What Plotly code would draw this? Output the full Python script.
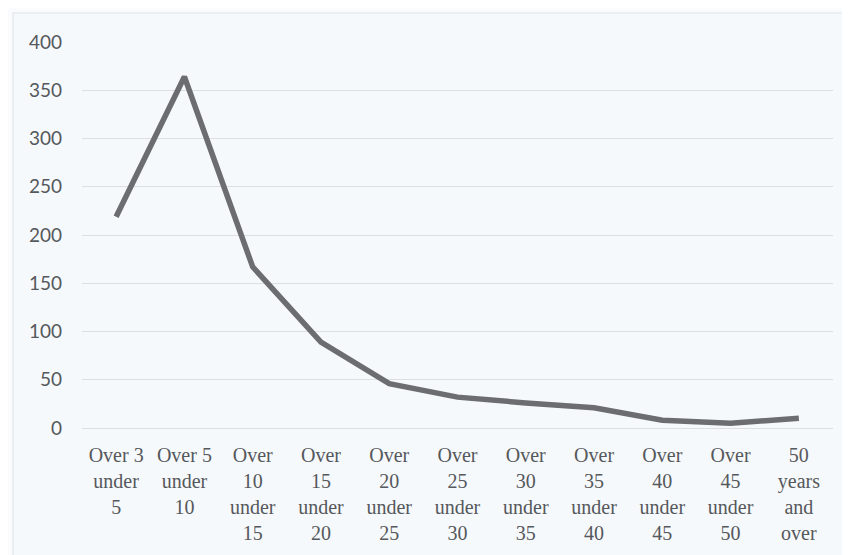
import plotly.graph_objects as go

categories = [
    "Over 3<br>under<br>5", "Over 5<br>under<br>10", "Over<br>10<br>under<br>15",
    "Over<br>15<br>under<br>20", "Over<br>20<br>under<br>25", "Over<br>25<br>under<br>30",
    "Over<br>30<br>under<br>35", "Over<br>35<br>under<br>40", "Over<br>40<br>under<br>45",
    "Over<br>45<br>under<br>50", "50<br>years<br>and<br>over",
]
values = [219, 364, 167, 89, 46, 32, 26, 21, 8, 5, 10]
y_ticks = [0, 50, 100, 150, 200, 250, 300, 350, 400]

# page body has an 8px default margin, so margins are offset accordingly
L, R, T, B = 74, 25, 34, 135
W, H = 850, 555
pw, ph = W - L - R, H - T - B

fig = go.Figure()
fig.add_trace(go.Scatter(
    x=list(range(len(categories))), y=values, mode="lines",
    line=dict(color="#6b6d70", width=5.5),
    hoverinfo="skip", showlegend=False,
))

fig.update_layout(
    width=W, height=H,
    margin=dict(l=L, r=R, t=T, b=B, autoexpand=False),
    paper_bgcolor="#f9fbfd", plot_bgcolor="#f6f9fb",
    xaxis=dict(
        range=[-0.5, len(categories) - 0.5],
        tickmode="array", tickvals=list(range(len(categories))), ticktext=categories,
        showgrid=False, zeroline=False, showline=False, ticks="",
        tickfont=dict(family="Liberation Serif", size=20, color="#55585c"),
        automargin=False, tickangle=0, ticklabelstandoff=13,
    ),
    yaxis=dict(
        range=[0, 400], tickmode="array", tickvals=y_ticks,
        showgrid=True, gridcolor="#dcdfe2", gridwidth=1.3,
        zeroline=True, zerolinecolor="#dcdfe2", zerolinewidth=1.3,
        showline=False, ticks="",
        tickfont=dict(family="Lato", size=19, color="#55585c"),
        ticklabelstandoff=19, automargin=False,
    ),
    shapes=[dict(type="rect", xref="paper", yref="paper",
                 x0=(5 - L) / pw, x1=(841 - L) / pw,
                 y0=-(B + 20) / ph, y1=(ph + T - 5) / ph,
                 line=dict(color="#e6eaee", width=1.5), fillcolor="#f6f9fb", layer="below")],
)

fig.write_html("out.html")
